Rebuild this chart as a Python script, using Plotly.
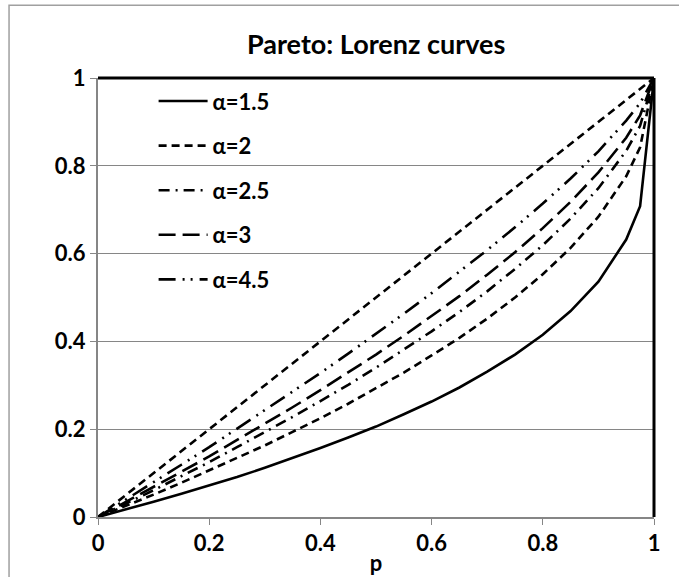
import plotly.graph_objects as go

p = [0, 0.05, 0.1, 0.15, 0.2, 0.25, 0.3, 0.35, 0.4, 0.45, 0.5, 0.55, 0.6, 0.65,
     0.7, 0.75, 0.8, 0.85, 0.9, 0.95, 0.975, 1]

L_a15 = [0, 0.017, 0.035, 0.053, 0.072, 0.091, 0.112, 0.134, 0.157, 0.181, 0.206,
         0.234, 0.263, 0.295, 0.331, 0.370, 0.415, 0.469, 0.536, 0.632, 0.708, 1]
L_a2 = [0, 0.025, 0.051, 0.078, 0.106, 0.134, 0.163, 0.194, 0.225, 0.258, 0.293,
        0.329, 0.368, 0.408, 0.452, 0.500, 0.553, 0.613, 0.684, 0.776, 0.842, 1]
L_a25 = [0, 0.030, 0.061, 0.093, 0.125, 0.159, 0.193, 0.228, 0.264, 0.301, 0.340,
         0.381, 0.423, 0.467, 0.514, 0.565, 0.619, 0.680, 0.749, 0.834, 0.891, 1]
L_a3 = [0, 0.034, 0.068, 0.103, 0.138, 0.175, 0.212, 0.250, 0.289, 0.329, 0.370,
        0.413, 0.457, 0.503, 0.552, 0.603, 0.658, 0.718, 0.785, 0.864, 0.915, 1]
L_a45 = [0, 0.039, 0.079, 0.119, 0.159, 0.201, 0.242, 0.285, 0.328, 0.372, 0.417,
         0.463, 0.510, 0.558, 0.608, 0.660, 0.714, 0.771, 0.833, 0.903, 0.943, 1]
equality = [0, 1]
equality_p = [0, 1]

names = ["α=1.5", "α=2", "α=2.5", "α=3", "α=4.5"]
series = [L_a15, L_a2, L_a25, L_a3, L_a45]
dashes = ["solid", "8px,5px", "11px,6px,2px,6px", "17px,7px", "17px,7px,2px,6px,2px,7px"]

tick_vals = [0, 0.2, 0.4, 0.6, 0.8, 1]
tick_text = ["0", "0.2", "0.4", "0.6", "0.8", "1"]

FONT = "Lato"

fig = go.Figure()
for i, (nm, ys, ds) in enumerate(zip(names, series, dashes)):
    fig.add_trace(go.Scatter(x=p, y=ys, mode="lines", name=f"<b>{nm}</b>", legendgroup=nm,
                             line=dict(color="black", width=2.6, dash=ds)))
fig.add_trace(go.Scatter(x=equality_p, y=equality, mode="lines", showlegend=False,
                         line=dict(color="black", width=2.6, dash="8px,5px")))

grey = "#868686"
bold_ticks = [f"<b>{t}</b>" for t in tick_text]
fig.update_layout(
    width=679, height=577,
    margin=dict(l=98, r=25, t=78, b=60),
    paper_bgcolor="white", plot_bgcolor="white",
    title=dict(text="<b>Pareto: Lorenz curves</b>", x=0.554, xanchor="center",
               y=0.922, yanchor="middle",
               font=dict(family=FONT, size=27, color="black")),
    font=dict(family=FONT, color="black"),
    showlegend=True,
    legend=dict(x=0.10, y=0.995, xanchor="left", yanchor="top",
                bgcolor="rgba(0,0,0,0)", font=dict(family=FONT, size=22, color="black"),
                tracegroupgap=13, itemwidth=49),
    xaxis=dict(range=[0, 1], tickvals=tick_vals, ticktext=bold_ticks, automargin=False,
               showgrid=False, zeroline=False, showline=True, linecolor=grey, linewidth=2,
               ticks="outside", ticklen=6, tickcolor=grey, tickwidth=1,
               tickfont=dict(family=FONT, size=22, color="black"),
               title=dict(text="<b>p</b>", font=dict(family=FONT, size=22, color="black"),
                          standoff=0)),
    yaxis=dict(range=[0, 1], tickvals=tick_vals, ticktext=bold_ticks, automargin=False,
               showgrid=True, gridcolor=grey, gridwidth=1, zeroline=False,
               showline=True, linecolor=grey, linewidth=2,
               ticks="outside", ticklen=6, tickcolor=grey, tickwidth=1,
               tickfont=dict(family=FONT, size=22, color="black")),
)

# black top and right plot border
fig.add_shape(type="line", xref="x domain", yref="y domain", x0=0, x1=1, y0=1, y1=1,
              line=dict(color="black", width=3))
fig.add_shape(type="line", xref="x domain", yref="y domain", x0=1, x1=1, y0=0, y1=1,
              line=dict(color="black", width=3))
# outer chart frame
fig.add_shape(type="rect", xref="paper", yref="paper", x0=-0.160, x1=1.3, y0=-0.5, y1=1.166,
              line=dict(color="#a0a0a0", width=1.5), layer="below")

fig.write_html("out.html", config={"displayModeBar": False},
               post_script="document.body.style.margin='0';")
